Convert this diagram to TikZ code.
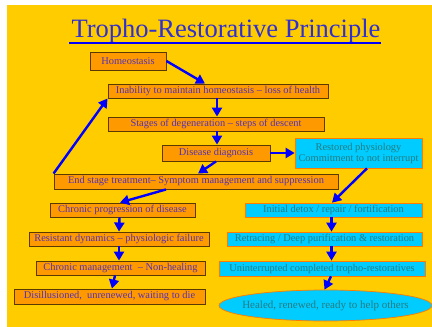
\documentclass[tikz,border=0pt]{standalone}
\usepackage{fontspec}
\setmainfont{Liberation Serif}
\usetikzlibrary{arrows.meta,shapes.geometric}
\definecolor{bgyellow}{HTML}{FFCC00}
\definecolor{boxorange}{HTML}{FF9900}
\definecolor{boxedge}{HTML}{5A3A00}
\definecolor{orangetext}{HTML}{5530B8}
\definecolor{cyanfill}{HTML}{00CCFF}
\definecolor{cyanedge}{HTML}{FF7A00}
\definecolor{cyantext}{HTML}{247C80}
\definecolor{titleblue}{HTML}{3030D0}
\definecolor{arrblue}{HTML}{0000FF}
\tikzset{
  obox/.style={draw=boxedge, line width=0.9pt, fill=boxorange, text=orangetext,
    inner sep=0pt, font=\fontsize{10.4}{11}\selectfont},
  cbox/.style={draw=cyanedge, line width=0.7pt, fill=cyanfill, text=cyantext,
    inner sep=0pt, font=\fontsize{10.4}{11}\selectfont},
  arr/.style={draw=arrblue, line width=2.4pt, -{Triangle[length=9pt,width=10pt]}},
}
\begin{document}
\begin{tikzpicture}[x=1pt,y=-1pt]
\useasboundingbox (0,0) rectangle (432,327);
\fill[white] (0,0) rectangle (432,327);
\fill[bgyellow] (7,5) rectangle (432,327);
% title
\node[text=titleblue, font=\fontsize{26.5}{30}\selectfont, inner sep=0pt, anchor=base] (title) at (226,37) {Tropho-Restorative Principle};
\draw[arrblue, line width=2pt] (69,42.5) -- (381,42.5);
% left column
\node[obox, minimum width=76pt, minimum height=18pt] (homeo) at (128,61) {Homeostasis};
\node[obox, minimum width=220pt, minimum height=14pt] (inab) at (218,91) {Inability to maintain homeostasis -- loss of health};
\node[obox, minimum width=216pt, minimum height=14pt] (stages) at (216,124) {Stages of degeneration -- steps of descent};
\node[obox, minimum width=108pt, minimum height=16pt] (diag) at (216,153) {Disease diagnosis};
\node[obox, minimum width=284pt, minimum height=15pt] (endst) at (196,181.5) {End stage treatment-- Symptom management and suppression};
\node[obox, minimum width=145pt, minimum height=14pt] (chronprog) at (122.5,210) {Chronic progression of disease};
\node[obox, minimum width=180pt, minimum height=14pt] (resist) at (119,239) {Resistant dynamics -- physiologic failure};
\node[obox, minimum width=169pt, minimum height=14pt] (chronman) at (120.5,268) {Chronic management\ \ -- Non-healing};
\node[obox, minimum width=191pt, minimum height=15pt] (disill) at (109.5,296.5) {Disillusioned,\ \ unrenewed, waiting to die};
% right column
\node[cbox, minimum width=127pt, minimum height=30pt, align=center] (restored) at (358.5,153) {Restored physiology\\[0pt]Commitment to not interrupt};
\node[cbox, minimum width=177pt, minimum height=14pt] (detox) at (333.5,210) {Initial detox / repair / fortification};
\node[cbox, minimum width=195pt, minimum height=14pt] (retr) at (324.5,239) {Retracing / Deep purification \& restoration};
\node[cbox, minimum width=206pt, minimum height=15pt] (unint) at (322,268.5) {Uninterrupted completed tropho-restoratives};
\node[cbox, ellipse, inner sep=0pt, minimum width=213pt, minimum height=31pt, font=\fontsize{11}{12}\selectfont] (healed) at (325.5,305.5) {\makebox[0pt]{Healed, renewed, ready to help others}};
% arrows
\draw[arr] (homeo.east) -- ([xshift=-13pt]inab.north);
\draw[arr] ([xshift=-1pt]inab.south) -- ([xshift=1pt]stages.north);
\draw[arr] ([xshift=1pt]stages.south) -- ([xshift=1pt]diag.north);
\draw[arr] (diag.east) -- (restored.west);
\draw[arr] (diag.south) -- ([xshift=2pt]endst.north);
\draw[arr] (endst.north west) -- (inab.south west);
\draw[arr] ([xshift=-30pt]endst.south) -- ([xshift=-2.5pt]chronprog.north);
\draw[arr] ([xshift=-3pt]chronprog.south) -- (resist.north);
\draw[arr] (resist.south) -- ([xshift=-1.5pt]chronman.north);
\draw[arr] ([xshift=-5.5pt]chronman.south) -- ([xshift=2.5pt]disill.north);
\draw[arr] ([xshift=8.5pt]restored.south) -- ([xshift=-1.5pt]detox.north);
\draw[arr] ([xshift=-2pt]detox.south) -- ([xshift=7pt]retr.north);
\draw[arr] ([xshift=7pt]retr.south) -- ([xshift=9.5pt]unint.north);
\draw[arr] ([xshift=9pt]unint.south) -- ([xshift=-1pt]healed.north);
\end{tikzpicture}
\end{document}
